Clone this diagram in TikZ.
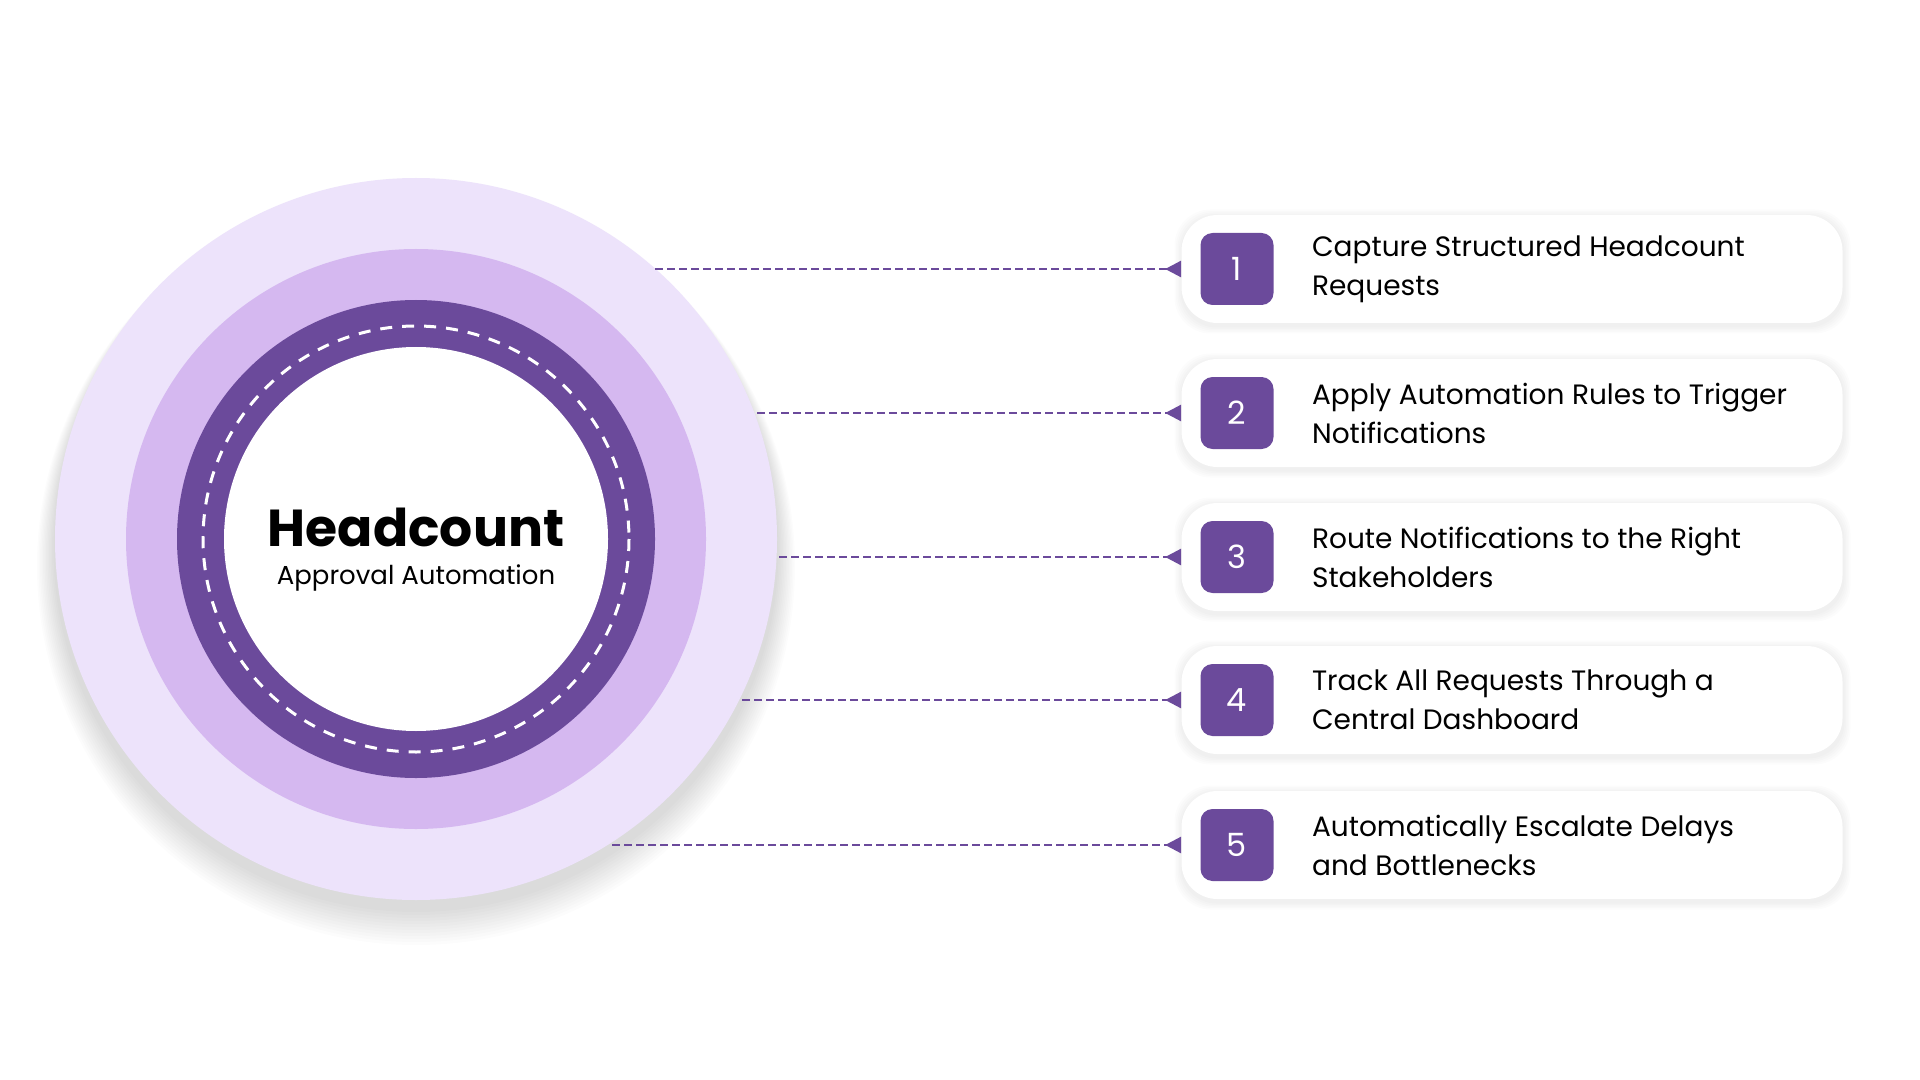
\documentclass[tikz,border=0pt]{standalone}
\usepackage{fontspec}
\setmainfont{Poppins}
\usetikzlibrary{arrows.meta}
\definecolor{dp}{HTML}{6B4A9B}
\definecolor{ringA}{HTML}{EDE3FB}
\definecolor{ringB}{HTML}{D5B8F0}
\tikzset{
 card/.style={draw=none,fill=white,rounded corners=18pt,minimum width=330.5pt,minimum height=54pt},
 numbox/.style={fill=dp,rounded corners=6pt,minimum width=36.5pt,minimum height=36pt,text=white,font=\fontsize{16}{16}\selectfont},
 itemtext/.style={anchor=west,align=left,font=\fontsize{14}{19.5}\selectfont,text=black},
 conn/.style={dp,line width=1.3pt,dash pattern=on 4pt off 2pt,-{Triangle[reversed,length=8pt,width=8pt]}}
}
\begin{document}
\begin{tikzpicture}[x=0.5pt,y=-0.5pt]
\useasboundingbox (0,0) rectangle (1920,1080);
\fill[white] (0,0) rectangle (1920,1080);
% circle
\coordinate (c) at (416,539);
\foreach \i in {1,...,12}{\fill[black,opacity=0.01] (416,548+\i*1.5) circle (361+\i*1.5);}
\fill[ringA] (c) circle (361);
\fill[ringB] (c) circle (290);
\fill[dp] (c) circle (239);
\fill[white] (c) circle (192);
\draw[white,line width=1.5pt,dash pattern=on 6pt off 5pt] (c) circle (213);
\node (title) at (416,527) {\fontsize{26}{26}\selectfont\bfseries Headcount};
\node (sub) at (416,578) {\fontsize{13}{13}\selectfont Approval Automation};
% cards
\foreach \n/\y/\xs/\t in {1/269/655/{Capture Structured Headcount\\Requests},
 2/413/757/{Apply Automation Rules to Trigger\\Notifications},
 3/557/779/{Route Notifications to the Right\\Stakeholders},
 4/700/742/{Track All Requests Through a\\Central Dashboard},
 5/845/612/{Automatically Escalate Delays\\and Bottlenecks}}{
 \foreach \k in {1,...,5}{\fill[black,opacity=0.012,rounded corners=18pt] (1182-\k*1.5,\y-54-\k*1.5+2) rectangle (1843+\k*1.5,\y+54+\k*1.5+3);}
 \node[card] (card\n) at (1512,\y) {};
 \node[numbox] (num\n) at (1237,\y) {\n};
 \node[itemtext] (txt\n) at (1305,\y) {\t};
 \coordinate (s\n) at (\xs,\y);
 \draw[conn] (s\n) -- (card\n.west);
}
\end{tikzpicture}
\end{document}
